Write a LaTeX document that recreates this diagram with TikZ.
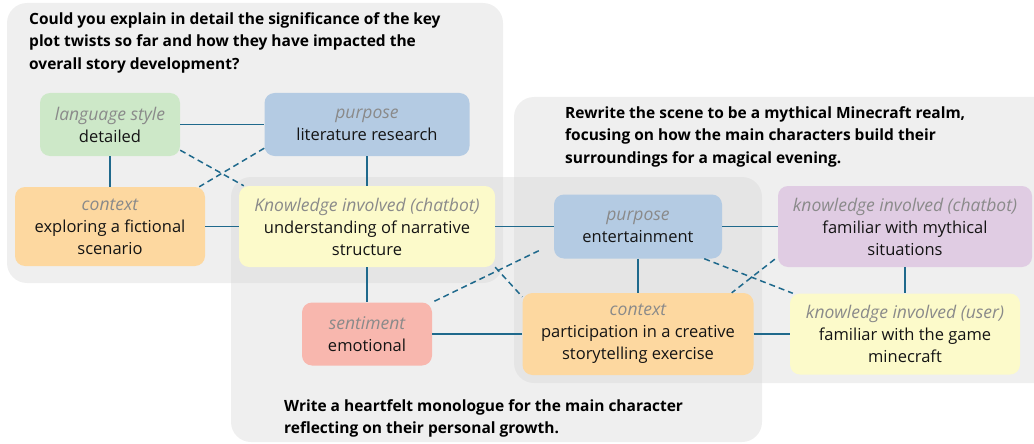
\documentclass[tikz,border=0pt]{standalone}
\usepackage{fontspec}
\setmainfont{Open Sans}
\usepackage{tikz}
\usetikzlibrary{calc}

\definecolor{edgeblue}{RGB}{31,105,140}
\definecolor{panelgray}{RGB}{212,212,212}
\definecolor{labelgray}{RGB}{138,138,138}
\definecolor{textblack}{RGB}{20,20,20}
\definecolor{greenfill}{RGB}{205,232,200}
\definecolor{bluefill}{RGB}{180,203,227}
\definecolor{orangefill}{RGB}{253,216,160}
\definecolor{yellowfill}{RGB}{252,250,202}
\definecolor{purplefill}{RGB}{224,204,227}
\definecolor{pinkfill}{RGB}{248,183,174}

\newcommand{\aspect}[1]{{\color{labelgray}\fontsize{17.5}{22}\selectfont\itshape #1}}

\begin{document}
\begin{tikzpicture}[x=1pt, y=-1pt, font=\fontsize{16.5}{22}\selectfont]
    % Styles
    \tikzstyle{panel} = [fill=panelgray, fill opacity=0.375, rounded corners=20pt]
    \tikzstyle{prompt} = [anchor=north west, align=left, inner sep=0pt, font=\bfseries\fontsize{15.5}{22.5}\selectfont]
    \tikzstyle{facet} = [rounded corners=10pt, align=center, inner sep=0pt, text=textblack]
    \tikzstyle{link} = [draw=edgeblue, line width=1.5pt]
    \tikzstyle{weak} = [link, dash pattern=on 6pt off 4pt]

    \clip (0,0) rectangle (1034,444);

    % Panels
    \fill[panel] (7,3) rectangle (503,283);
    \fill[panel] (514,97) rectangle (1060,383);
    \fill[panel] (231,177) rectangle (762,442);

    \node[prompt] (promptA) at (29,12) {Could you explain in detail the significance of the key\\plot twists so far and how they have impacted the\\overall story development?};
    \node[prompt] (promptB) at (565,106) {Rewrite the scene to be a mythical Minecraft realm,\\focusing on how the main characters build their\\surroundings for a magical evening.};
    \node[prompt] (promptC) at (284,399) {Write a heartfelt monologue for the main character\\reflecting on their personal growth.};

    % Nodes
    \node[facet, fill=greenfill, minimum width=140pt, minimum height=63pt] (lang) at (110,124.5) {\aspect{language style}\\detailed};
    \node[facet, fill=bluefill, minimum width=205pt, minimum height=63pt] (purpA) at (367,124.5) {\aspect{purpose}\\literature research};
    \node[facet, fill=orangefill, minimum width=190pt, minimum height=79pt] (ctxA) at (110,226.5) {\aspect{context}\\exploring a fictional\\scenario};
    \node[facet, fill=yellowfill, minimum width=256pt, minimum height=81pt] (knowA) at (367,226.5) {\aspect{Knowledge involved (chatbot)}\\understanding of narrative\\structure};
    \node[facet, fill=bluefill, minimum width=168pt, minimum height=64pt] (purpB) at (638,226.5) {\aspect{purpose}\\entertainment};
    \node[facet, fill=purplefill, minimum width=254pt, minimum height=81pt] (knowB) at (905,226.5) {\aspect{knowledge involved (chatbot)}\\familiar with mythical\\situations};
    \node[facet, fill=pinkfill, minimum width=130pt, minimum height=63pt] (sent) at (367,334) {\aspect{sentiment}\\emotional};
    \node[facet, fill=orangefill, minimum width=231pt, minimum height=82pt] (ctxB) at (638,334) {\aspect{context}\\participation in a creative\\storytelling exercise};
    \node[facet, fill=yellowfill, minimum width=230pt, minimum height=81pt] (user) at (905,334) {\aspect{knowledge involved (user)}\\familiar with the game\\minecraft};

    % Links
    \draw[link] (lang) -- (purpA);
    \draw[link] (lang) -- (ctxA);
    \draw[link] (purpA) -- (knowA);
    \draw[link] (ctxA) -- (knowA);
    \draw[link] (knowA) -- (purpB);
    \draw[link] (purpB) -- (knowB);
    \draw[link] (purpB) -- (ctxB);
    \draw[link] (knowB) -- (user);
    \draw[link] (knowA) -- (sent);
    \draw[link] (sent) -- (ctxB);
    \draw[link] (ctxB) -- (user);

    % Weak links
    \draw[weak] ([yshift=6pt]lang.south east) -- ([xshift=5pt]knowA.north west);
    \draw[weak] ([yshift=8pt]purpA.south west) -- ([xshift=-6pt]ctxA.north east);
    \draw[weak] ([xshift=-15pt, yshift=8pt]purpB.south west) -- (sent.north east);
    \draw[weak] (knowA.south east) -- ([yshift=-4pt]ctxB.north west);
    \draw[weak] ([xshift=-18pt]purpB.south east) -- ([xshift=3pt]user.north west);
    \draw[weak] ([yshift=8pt, xshift=-3pt]knowB.south west) -- ([xshift=-22pt]ctxB.north east);
\end{tikzpicture}
\end{document}
